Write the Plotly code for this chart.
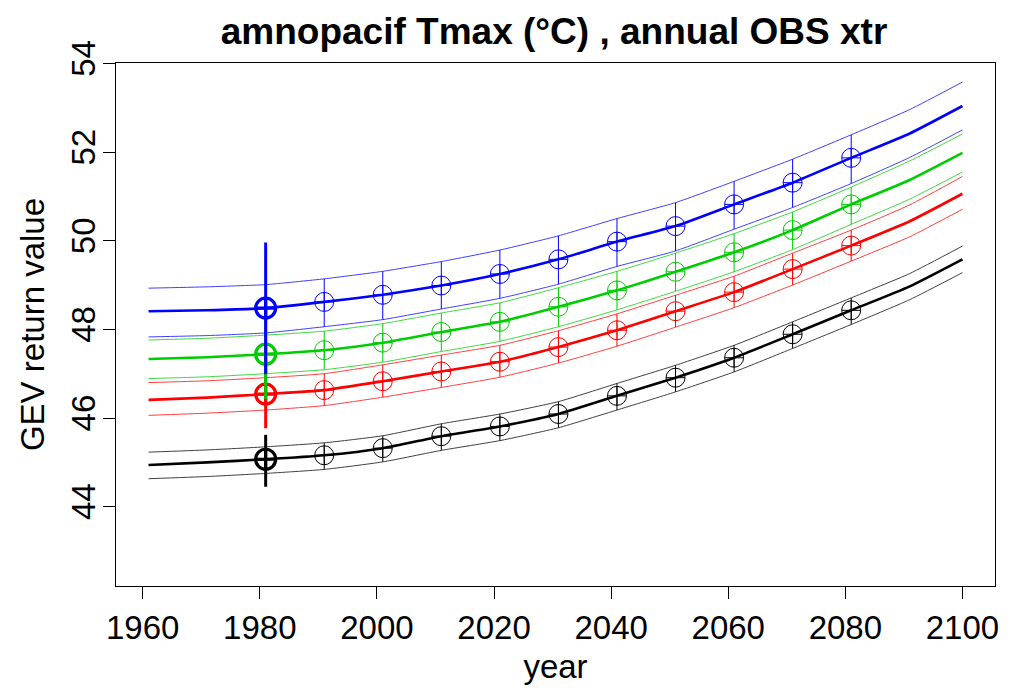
import plotly.graph_objects as go

# Years at which the fitted return-level curves are tabulated
years = [1961, 1971, 1981, 1991, 2001, 2011, 2021, 2031, 2041, 2051, 2061, 2071, 2081, 2091, 2100]

# Fitted GEV return levels (centre) with lower/upper confidence bounds, per return period
black_mid = [44.94, 45.00, 45.07, 45.16, 45.32, 45.59, 45.81, 46.09, 46.50, 46.91, 47.36, 47.89, 48.43, 48.97, 49.58]
black_up = [45.23, 45.28, 45.35, 45.44, 45.60, 45.87, 46.09, 46.37, 46.78, 47.19, 47.64, 48.17, 48.71, 49.26, 49.88]
black_lo = [44.63, 44.68, 44.75, 44.84, 45.01, 45.27, 45.49, 45.78, 46.18, 46.59, 47.04, 47.57, 48.11, 48.67, 49.28]

red_mid = [46.41, 46.46, 46.54, 46.63, 46.83, 47.05, 47.27, 47.60, 47.98, 48.41, 48.84, 49.36, 49.89, 50.44, 51.06]
red_up = [46.80, 46.84, 46.91, 47.00, 47.20, 47.42, 47.64, 47.97, 48.35, 48.77, 49.20, 49.72, 50.24, 50.81, 51.45]
red_lo = [46.06, 46.11, 46.18, 46.28, 46.47, 46.69, 46.92, 47.24, 47.62, 48.05, 48.49, 49.00, 49.54, 50.09, 50.71]

green_mid = [47.33, 47.37, 47.44, 47.53, 47.70, 47.94, 48.17, 48.51, 48.88, 49.30, 49.74, 50.24, 50.82, 51.37, 51.98]
green_up = [47.76, 47.80, 47.87, 47.96, 48.13, 48.37, 48.60, 48.94, 49.31, 49.72, 50.16, 50.65, 51.21, 51.80, 52.41]
green_lo = [46.89, 46.93, 47.00, 47.09, 47.26, 47.50, 47.73, 48.06, 48.44, 48.86, 49.30, 49.80, 50.37, 50.94, 51.55]

blue_mid = [48.41, 48.43, 48.48, 48.62, 48.78, 48.99, 49.25, 49.58, 49.98, 50.33, 50.82, 51.31, 51.87, 52.42, 53.04]
blue_up = [48.93, 48.96, 49.01, 49.14, 49.31, 49.53, 49.79, 50.11, 50.50, 50.86, 51.34, 51.84, 52.39, 52.96, 53.58]
blue_lo = [47.83, 47.86, 47.92, 48.06, 48.22, 48.46, 48.70, 49.02, 49.42, 49.77, 50.26, 50.75, 51.29, 51.88, 52.50]

# Observed-period estimate (1981) with its confidence interval
obs_year = 1981
obs_val = {"black": 45.07, "red": 46.54, "green": 47.44, "blue": 48.48}
obs_lo = {"black": 44.45, "red": 45.77, "green": 46.43, "blue": 46.99}
obs_hi = {"black": 45.62, "red": 47.30, "green": 48.45, "blue": 49.96}

# Decadal check points on the fitted curves
point_years = [1991, 2001, 2011, 2021, 2031, 2041, 2051, 2061, 2071, 2081]

x_ticks = [1960, 1980, 2000, 2020, 2040, 2060, 2080, 2100]
y_ticks = [44, 46, 48, 50, 52, 54]

series = [
    ("black", "#000000", black_mid, black_lo, black_up),
    ("red", "#FF0000", red_mid, red_lo, red_up),
    ("green", "#00CD00", green_mid, green_lo, green_up),
    ("blue", "#0000FF", blue_mid, blue_lo, blue_up),
]

fig = go.Figure()
for name, col, mid, lo, up in series:
    for bound in (lo, up):
        fig.add_trace(go.Scatter(
            x=years, y=bound, mode="lines",
            line=dict(color=col, width=1, shape="spline", smoothing=0.5),
            opacity=0.75, hoverinfo="skip"))
    fig.add_trace(go.Scatter(
        x=years, y=mid, mode="lines",
        line=dict(color=col, width=2.6, shape="spline", smoothing=0.5),
        hoverinfo="skip"))
    idx = [years.index(y) for y in point_years]
    pm = [mid[i] for i in idx]
    fig.add_trace(go.Scatter(
        x=point_years, y=pm, mode="markers",
        marker=dict(symbol="circle-cross-open", size=19, color=col, line=dict(width=1, color=col)),
        error_y=dict(type="data", symmetric=False,
                     array=[up[i] - mid[i] for i in idx],
                     arrayminus=[mid[i] - lo[i] for i in idx],
                     color=col, thickness=1, width=0),
        hoverinfo="skip"))
    v = obs_val[name]
    fig.add_trace(go.Scatter(
        x=[obs_year], y=[v], mode="markers",
        marker=dict(symbol="circle-cross-open", size=20, color=col, line=dict(width=3.2, color=col)),
        error_y=dict(type="data", symmetric=False,
                     array=[obs_hi[name] - v], arrayminus=[v - obs_lo[name]],
                     color=col, thickness=3, width=0),
        hoverinfo="skip"))

font_family = "Liberation Sans, Arial, Helvetica, sans-serif"
fig.update_layout(
    width=1011, height=691,
    margin=dict(l=116, r=13, t=63, b=101),
    paper_bgcolor="white", plot_bgcolor="white",
    showlegend=False,
    font=dict(family=font_family, color="black", size=33),
    title=dict(text="<b>amnopacif Tmax (°C) , annual OBS xtr</b>",
               x=0.548, xanchor="center", y=1 - 31 / 691, yanchor="middle",
               yref="container", font=dict(size=37, family=font_family)),
    xaxis=dict(range=[1955.44, 2105.56], tickvals=x_ticks, ticktext=[str(t) for t in x_ticks],
               ticks="outside", ticklen=12, tickwidth=1, tickcolor="black",
               showline=True, linecolor="black", linewidth=1, mirror=True,
               showgrid=False, zeroline=False,
               tickfont=dict(size=33),
               title=dict(text="year", font=dict(size=33), standoff=10)),
    yaxis=dict(range=[42.21, 54.01], tickvals=y_ticks, ticktext=[str(t) for t in y_ticks],
               tickangle=-90, ticklabelstandoff=-5,
               ticks="outside", ticklen=12, tickwidth=1, tickcolor="black",
               showline=True, linecolor="black", linewidth=1, mirror=True,
               showgrid=False, zeroline=False,
               tickfont=dict(size=33),
               title=dict(text="GEV return value", font=dict(size=33), standoff=10)),
)

fig.write_html("out.html")
